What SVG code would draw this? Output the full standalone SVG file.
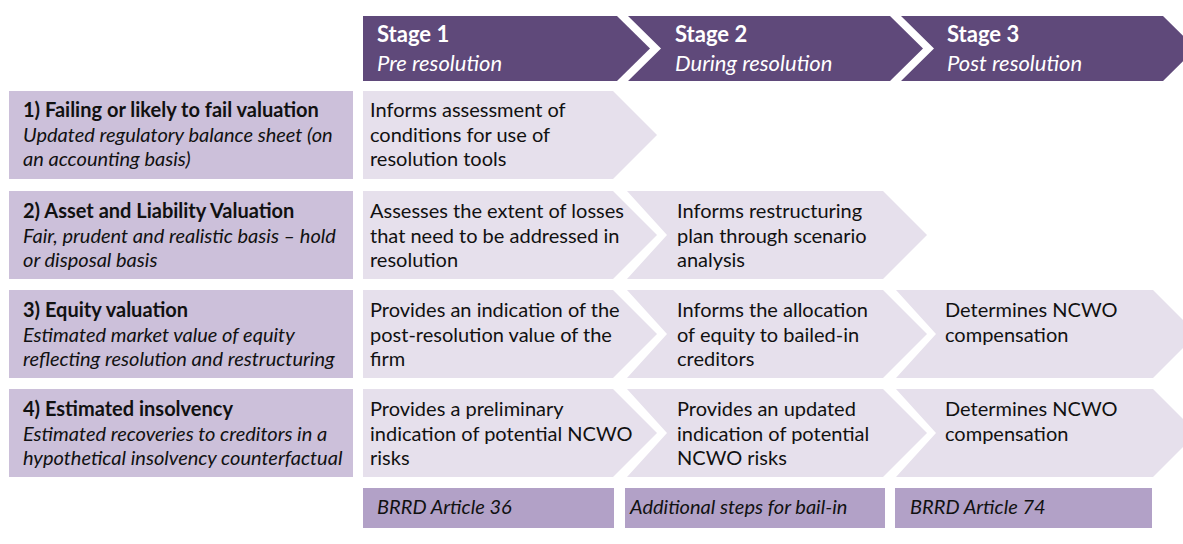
<svg xmlns="http://www.w3.org/2000/svg" width="1183" height="544" viewBox="0 0 1183 544">
<style>
.hdr{fill:#5f497a}
.lbox{fill:#ccc0da}
.chev{fill:#e6e0ec}
.bar{fill:#b2a1c7}
text{font-family:Lato,"Liberation Sans",sans-serif;fill:#111}
.ht{font-size:22px;fill:#fff}
.b{font-weight:bold}
.i{font-style:italic}
.t{font-size:20px}
.bt{font-size:20px;font-style:italic}
</style>
<rect width="1183" height="544" fill="#fff"/>
<g id="stage1">
<path class="hdr" d="M363,16 H617 L650,48.5 L617,81 H363 Z"/>
<text class="ht b" x="377" y="42">Stage 1</text>
<text class="ht i" x="377" y="71">Pre resolution</text>
</g>
<g id="stage2">
<path class="hdr" d="M628,16 H890 L923,48.5 L890,81 H628 L661,48.5 Z"/>
<text class="ht b" x="675" y="42">Stage 2</text>
<text class="ht i" x="675" y="71">During resolution</text>
</g>
<g id="stage3">
<path class="hdr" d="M901,16 H1163 L1196,48.5 L1163,81 H901 L934,48.5 Z"/>
<text class="ht b" x="947" y="42">Stage 3</text>
<text class="ht i" x="947" y="71">Post resolution</text>
</g>

<g id="row1-label">
<rect class="lbox" x="9" y="91" width="344" height="88"/>
<text class="t b" x="23" y="117">1) Failing or likely to fail valuation</text>
<text class="t i" x="23" y="141.5">Updated regulatory balance sheet (on</text>
<text class="t i" x="23" y="166">an accounting basis)</text>
</g>
<g id="row1-s1">
<path class="chev" d="M363,91 H613 L657,135 L613,179 H363 Z"/>
<text class="t" x="370" y="117">Informs assessment of</text>
<text class="t" x="370" y="141.5">conditions for use of</text>
<text class="t" x="370" y="166">resolution tools</text>
</g>

<g id="row2-label">
<rect class="lbox" x="9" y="191" width="344" height="88"/>
<text class="t b" x="23" y="218">2) Asset and Liability Valuation</text>
<text class="t i" x="23" y="242.5">Fair, prudent and realistic basis – hold</text>
<text class="t i" x="23" y="267">or disposal basis</text>
</g>
<g id="row2-s1">
<path class="chev" d="M363,191 H613 L657,235 L613,279 H363 Z"/>
<text class="t" x="370" y="218">Assesses the extent of losses</text>
<text class="t" x="370" y="242.5">that need to be addressed in</text>
<text class="t" x="370" y="267">resolution</text>
</g>
<g id="row2-s2">
<path class="chev" d="M627,191 H883 L927,235 L883,279 H627 L667,235 Z"/>
<text class="t" x="677" y="218">Informs restructuring</text>
<text class="t" x="677" y="242.5">plan through scenario</text>
<text class="t" x="677" y="267">analysis</text>
</g>

<g id="row3-label">
<rect class="lbox" x="9" y="290" width="344" height="88"/>
<text class="t b" x="23" y="317">3) Equity valuation</text>
<text class="t i" x="23" y="341.5">Estimated market value of equity</text>
<text class="t i" x="23" y="366">reflecting resolution and restructuring</text>
</g>
<g id="row3-s1">
<path class="chev" d="M363,290 H613 L657,334 L613,378 H363 Z"/>
<text class="t" x="370" y="317">Provides an indication of the</text>
<text class="t" x="370" y="341.5">post-resolution value of the</text>
<text class="t" x="370" y="366">firm</text>
</g>
<g id="row3-s2">
<path class="chev" d="M627,290 H883 L927,334 L883,378 H627 L667,334 Z"/>
<text class="t" x="677" y="317">Informs the allocation</text>
<text class="t" x="677" y="341.5">of equity to bailed-in</text>
<text class="t" x="677" y="366">creditors</text>
</g>
<g id="row3-s3">
<path class="chev" d="M896,290 H1153 L1197,334 L1153,378 H896 L936,334 Z"/>
<text class="t" x="945" y="317">Determines NCWO</text>
<text class="t" x="945" y="341.5">compensation</text>
</g>

<g id="row4-label">
<rect class="lbox" x="9" y="389" width="344" height="88"/>
<text class="t b" x="23" y="416">4) Estimated insolvency</text>
<text class="t i" x="23" y="440.5">Estimated recoveries to creditors in a</text>
<text class="t i" x="23" y="465">hypothetical insolvency counterfactual</text>
</g>
<g id="row4-s1">
<path class="chev" d="M363,389 H613 L657,433 L613,477 H363 Z"/>
<text class="t" x="370" y="416">Provides a preliminary</text>
<text class="t" x="370" y="440.5">indication of potential NCWO</text>
<text class="t" x="370" y="465">risks</text>
</g>
<g id="row4-s2">
<path class="chev" d="M627,389 H883 L927,433 L883,477 H627 L667,433 Z"/>
<text class="t" x="677" y="416">Provides an updated</text>
<text class="t" x="677" y="440.5">indication of potential</text>
<text class="t" x="677" y="465">NCWO risks</text>
</g>
<g id="row4-s3">
<path class="chev" d="M896,389 H1153 L1197,433 L1153,477 H896 L936,433 Z"/>
<text class="t" x="945" y="416">Determines NCWO</text>
<text class="t" x="945" y="440.5">compensation</text>
</g>

<g id="bar1">
<rect class="bar" x="363" y="488" width="251" height="40"/>
<text class="bt" x="377" y="514">BRRD Article 36</text>
</g>
<g id="bar2">
<rect class="bar" x="625" y="488" width="260" height="40"/>
<text class="bt" x="630" y="514">Additional steps for bail-in</text>
</g>
<g id="bar3">
<rect class="bar" x="895" y="488" width="257" height="40"/>
<text class="bt" x="910" y="514">BRRD Article 74</text>
</g>
</svg>
